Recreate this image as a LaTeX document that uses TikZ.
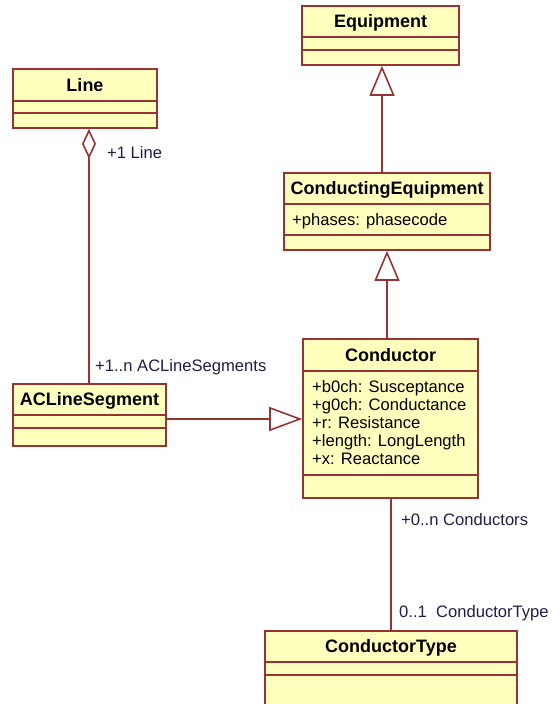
\documentclass[tikz,border=0pt]{standalone}
\usepackage{fontspec}
\setmainfont{Liberation Sans}
\usetikzlibrary{arrows.meta,fit,calc}
\definecolor{umlborder}{RGB}{153,51,51}
\definecolor{umlfill}{RGB}{255,255,190}
\definecolor{lbl}{RGB}{30,30,72}
\tikzset{
 cls/.style={draw=umlborder, fill=umlfill, line width=1.6pt, inner sep=0pt},
 divider/.style={draw=umlborder, line width=1.5pt},
 ctitle/.style={font=\fontsize{18}{20}\selectfont\bfseries, text height=12.9pt, text depth=0pt, inner sep=0pt},
 attr/.style={font=\fontsize{16.6}{18}\selectfont, anchor=west, text height=11.9pt, text depth=0pt, inner sep=0pt},
 rolelabel/.style={attr, text=lbl},
 conn/.style={draw=umlborder, line width=1.6pt},
 gen/.style={conn, -{Triangle[open, length=30pt, width=25pt]}},
 genh/.style={conn, -{Triangle[open, length=33pt, width=24pt]}},
 aggr/.style={conn, -{Diamond[open, length=30pt, width=14pt]}},
}
\newcommand\umlclass[6]{%
 \node[cls, fit={#2 #3}] (#1) {};
 \draw[divider] ($(#1.north west)+(0,#4)$) -- ($(#1.north east)+(0,#4)$);
 \draw[divider] ($(#1.north west)+(0,#5)$) -- ($(#1.north east)+(0,#5)$);
 \node[ctitle] (#1-title) at ($(#1.north)+(0,#4/2)$) {#6};
}
\begin{document}
\begin{tikzpicture}[x=1pt,y=-1pt]
\useasboundingbox (0,0) rectangle (558,704);
\umlclass{equip}{(302,6)}{(459,65)}{32}{45}{Equipment}
\umlclass{ce}{(284,173)}{(490,250)}{32}{63}{ConductingEquipment}
\umlclass{line}{(13,69)}{(157,128)}{33}{45}{Line}
\umlclass{acl}{(13,384)}{(166,446)}{32}{45}{ACLineSegment}
\umlclass{cond}{(303,339)}{(478,498)}{33}{137}{Conductor}
\umlclass{ctype}{(265,631)}{(517,712)}{32}{45}{ConductorType}

\node[attr] (ce-a1) at (292,220) {+phases: phasecode};
\node[attr] (cond-a1) at (312,387) {+b0ch: Susceptance};
\node[attr] (cond-a2) at (312,405) {+g0ch: Conductance};
\node[attr] (cond-a3) at (312,423) {+r: Resistance};
\node[attr] (cond-a4) at (312,441) {+length: LongLength};
\node[attr] (cond-a5) at (312,459) {+x: Reactance};

\coordinate (equipin) at ($(equip.south)+(1.5,0)$);
\draw[gen] (equipin |- ce.north) -- (equipin);
\draw[gen] (cond.north -| ce.south) -- (ce.south);
\coordinate (aclout) at ($(acl.east)+(0,4)$);
\draw[genh] (aclout) -- (aclout -| cond.west);
\coordinate (acltop) at ($(acl.north)+(-0.5,0)$);
\draw[aggr] (acltop) -- (acltop |- line.south);
\coordinate (condbot) at ($(cond.south)+(0.5,0)$);
\draw[conn] (condbot) -- (condbot |- ctype.north);

\node[rolelabel] (l1) at (107,153) {+1 Line};
\node[rolelabel] (l2) at (95,366) {+1..n ACLineSegments};
\node[rolelabel] (l3) at (401,520) {+0..n Conductors};
\node[rolelabel] (l4) at (399,612) {0..1\ \ ConductorType};
\end{tikzpicture}
\end{document}
